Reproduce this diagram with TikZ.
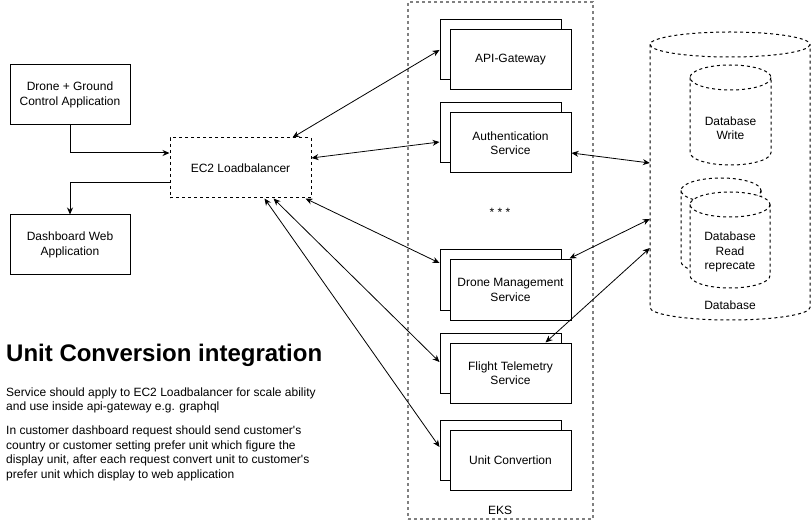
\documentclass[tikz,border=0pt]{standalone}
\usepackage{fontspec}
\setmainfont{Liberation Sans}[Ligatures=TeXOff]
\usetikzlibrary{arrows.meta,calc}
\newcommand{\dbcyl}[5]{%
 \pgfmathsetmacro{\dbcx}{(#1+#2)/2}%
 \pgfmathsetmacro{\dbrx}{(#2-#1)/2}%
 \pgfmathsetmacro{\dbyt}{#3+#5}%
 \pgfmathsetmacro{\dbyb}{#4-#5}%
 \pgfmathsetmacro{\dbkx}{0.5523*\dbrx}%
 \pgfmathsetmacro{\dbky}{0.5523*#5}%
 \fill[white] (#1,\dbyt) -- (#1,\dbyb) .. controls (#1,\dbyb+\dbky) and (\dbcx-\dbkx,#4) .. (\dbcx,#4) .. controls (\dbcx+\dbkx,#4) and (#2,\dbyb+\dbky) .. (#2,\dbyb) -- (#2,\dbyt) -- cycle;
 \fill[white] (\dbcx,\dbyt) ellipse [x radius=\dbrx, y radius=#5];
 \draw[dbline] (#1,\dbyt) -- (#1,\dbyb) .. controls (#1,\dbyb+\dbky) and (\dbcx-\dbkx,#4) .. (\dbcx,#4) .. controls (\dbcx+\dbkx,#4) and (#2,\dbyb+\dbky) .. (#2,\dbyb) -- (#2,\dbyt);
 \draw[dbline] (\dbcx,\dbyt) ellipse [x radius=\dbrx, y radius=#5];
}
\begin{document}
\begin{tikzpicture}[x=1pt,y=-1pt,
 font=\fontsize{12}{14.5}\selectfont,
 box/.style={draw, fill=white, line width=1pt, minimum width=120pt, minimum height=60pt, align=center, inner sep=0pt},
 svc/.style={box, minimum width=121pt},
 dashbox/.style={box, dash pattern=on 3pt off 3pt},
 dbline/.style={line width=1pt, dash pattern=on 3pt off 3pt},
 ekslines/.style={draw=black!50, line width=1.5pt, dash pattern=on 3pt off 3pt},
 conn/.style={line width=0.8pt, {Stealth[length=7pt,width=6pt]}-{Stealth[length=7pt,width=6pt]}},
 oneway/.style={line width=1pt, -{Stealth[length=7pt,width=6pt]}},
 plain/.style={inner sep=0pt, anchor=base west},
]
\useasboundingbox (0,0) rectangle (811,521);

% EKS container
\node[ekslines, minimum width=185pt, minimum height=517pt, inner sep=0pt] (eks) at (500.5,260.5) {};
\node (ekslabel) at (500,510) {EKS};

% Database cylinders
\node[minimum width=160pt, minimum height=288pt, inner sep=0pt] (db) at (730,176) {};
\dbcyl{650}{810}{32}{320}{12.5}
\node (dblabel) at (730,305) {Database};
\dbcyl{690}{771}{65}{165}{12.5}
\node[align=center] (dbw) at (730.5,128) {Database\\Write};
\dbcyl{681}{761}{178}{274}{12.5}
\dbcyl{690}{770}{192}{288}{12.5}
\node[align=center] (dbr) at (730,252) {Database\\Read\\reprecate};

% Left boxes
\node[box] (drone) at (70,95) {Drone + Ground\\Control Application};
\node[box] (dash) at (70,245) {Dashboard Web\\Application};
\node[dashbox, minimum width=141pt] (lb) at (240.5,168) {EC2 Loadbalancer};

% Services
\node[svc] (apib) at (500.5,50) {};
\node[svc] (apif) at (510.5,60) {API-Gateway};
\node[svc] (authb) at (500.5,133) {};
\node[svc] (authf) at (510.5,143) {Authentication\\Service};
\node[anchor=base] (dots) at (500,217) {* * *};
\node[svc] (dmb) at (500.5,280) {};
\node[svc] (dmf) at (510.5,290) {Drone Management\\Service};
\node[svc] (ftb) at (500.5,363) {};
\node[svc] (ftf) at (510.5,373) {Flight Telemetry\\Service};
\node[svc] (ucb) at (500.5,450) {};
\node[svc] (ucf) at (510.5,460) {Unit Convertion};

% Connectors
\draw[oneway] (drone.south) |- ($(lb.west)+(0,-15)$);
\draw[oneway] ($(lb.west)+(0,15)$) -| (dash.north);
\draw[conn] ($(lb.north east)+(-19,0)$) -- (apib.west);
\draw[conn] ($(lb.east)+(0,-10)$) -- ($(authb.west)+(0,9)$);
\draw[conn] ($(authf.east)+(0,10)$) -- ($(db.west)+(0,-13)$);
\draw[conn] ($(lb.south east)+(-6,0)$) -- ($(dmb.west)+(0,-17)$);
\draw[conn] ($(lb.south east)+(-38,0)$) -- ($(ftb.west)+(0,-1)$);
\draw[conn] ($(lb.south east)+(-47,0)$) -- ($(ucb.west)+(0,-3)$);
\draw[conn] ($(dmf.north east)+(-2,-1)$) -- ($(db.west)+(0,43)$);
\draw[conn] ($(ftf.north east)+(-26,0)$) -- ($(db.west)+(0,72)$);

% Notes
\node[plain, font=\fontsize{24}{28}\selectfont\bfseries] (title) at (6,361.5) {Unit Conversion integration};
\node[plain] (t1) at (6,396) {Service should apply to EC2 Loadbalancer for scale ability};
\node[plain] (t2) at (6,410.5) {and use inside api-gateway e.g. graphql};
\node[plain] (t3) at (6,434.5) {In customer dashboard request should send customer's};
\node[plain] (t4) at (6,449) {country or customer setting prefer unit which figure the};
\node[plain] (t5) at (6,463.5) {display unit, after each request convert unit to customer's};
\node[plain] (t6) at (6,478) {prefer unit which display to web application};
\end{tikzpicture}
\end{document}
